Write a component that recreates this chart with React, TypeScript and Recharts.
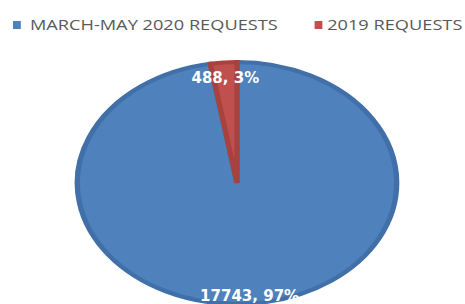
import React from 'react';
import { PieChart, Pie, Cell, Legend } from 'recharts';

const categories = ['MARCH-MAY 2020 REQUESTS', '2019 REQUESTS'];
const requests = [17743, 488];
const fills = ['#4f81bd', '#c0504d'];
const rims = ['#416fa8', '#a8423f'];

const data = categories.map((name, i) => ({ name, value: requests[i] }));

// the reference pie is an ellipse, so the svg gets stretched sideways
const K = 1.32;
const CX = 237;
const CY = 182;
const LEGEND_OFFSET = 18;

const renderLabel = (props: any) => {
  const { cx, cy, midAngle, outerRadius, percent, value, index } = props;
  const r = outerRadius * (index === 0 ? 0.94 : 0.87);
  const rad = (Math.PI / 180) * midAngle;
  const x = cx + r * Math.cos(rad);
  const y = cy - r * Math.sin(rad);
  return (
    <text
      transform={`translate(${x},${y}) scale(${1 / K},1)`}
      textAnchor="middle"
      dominantBaseline="central"
      fill="#ffffff"
      style={{ fontFamily: 'DejaVu Sans', fontWeight: 'bold', fontSize: 15 }}
    >
      {`${value}, ${Math.round(percent * 100)}%`}
    </text>
  );
};

const renderLegend = () => (
  <div
    style={{
      display: 'flex',
      alignItems: 'center',
      fontFamily: 'Open Sans',
      fontSize: 14,
      color: '#595959',
      paddingLeft: 10,
      transform: 'scaleX(1.3)',
      transformOrigin: '0 0',
      whiteSpace: 'nowrap',
    }}
  >
    {categories.map((c, i) => (
      <div key={c} style={{ display: 'flex', alignItems: 'center', marginRight: 28 }}>
        <span style={{ width: 6, height: 8, background: fills[i], marginRight: i === 0 ? 7 : 4, display: 'inline-block' }} />
        <span>{c}</span>
      </div>
    ))}
  </div>
);

export default function App() {
  return (
    <div style={{ position: 'absolute', left: 0, top: 0, width: 465, height: 304, background: '#fff', overflow: 'hidden' }}>
      <style>{`body{margin:0} .ellipse-pie .recharts-surface{transform:scaleX(${K});transform-origin:${CX}px ${CY}px}`}</style>
      <div className="ellipse-pie">
        <PieChart width={465} height={304} margin={{ top: 0, right: 0, bottom: 0, left: 0 }}>
          <Legend verticalAlign="top" align="left" content={renderLegend} wrapperStyle={{ top: 15, left: 0 }} />
          <Pie
            data={data}
            dataKey="value"
            nameKey="name"
            cx={CX}
            cy={CY - LEGEND_OFFSET}
            outerRadius={121}
            startAngle={90}
            endAngle={-270}
            label={renderLabel}
            labelLine={false}
            isAnimationActive={false}
          >
            {data.map((d, i) => (
              <Cell key={d.name} fill={fills[i]} stroke={rims[i]} strokeWidth={4} />
            ))}
          </Pie>
        </PieChart>
      </div>
    </div>
  );
}
